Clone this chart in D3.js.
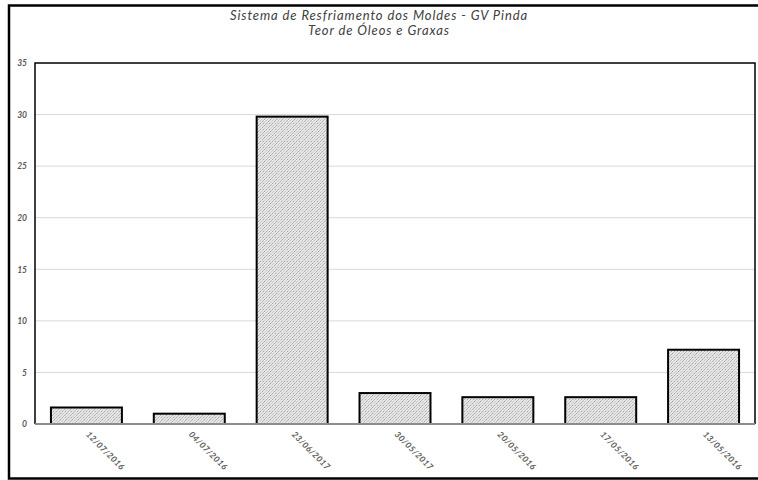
<!DOCTYPE html>
<html>
<head>
<meta charset="utf-8">
<script src="https://cdn.jsdelivr.net/npm/d3@7"></script>
<style>
  html, body { margin: 0; padding: 0; background: #fff; }
  svg { display: block; }
</style>
</head>
<body>
<svg id="chart" width="758" height="480"></svg>
<script>
// Sampling dates and measured oil & grease content
const categories = ["12/07/2016", "04/07/2016", "23/06/2017", "30/05/2017", "20/05/2016", "17/05/2016", "13/05/2016"];
const values = [1.6, 1.0, 29.8, 3.0, 2.6, 2.6, 7.2];
const yTicks = [0, 5, 10, 15, 20, 25, 30, 35];
const titleLines = ["Sistema de Resfriamento dos Moldes - GV Pinda", "Teor de Óleos e Graxas"];

const svg = d3.select("#chart");
const m = { left: 35, top: 63, right: 755, bottom: 424 };
const fontFamily = "Lato, 'Open Sans', sans-serif";

// Dotted texture used to fill the bars
const defs = svg.append("defs");
const pat = defs.append("pattern")
  .attr("id", "dots")
  .attr("patternUnits", "userSpaceOnUse")
  .attr("width", 6).attr("height", 6);
pat.append("rect").attr("width", 6).attr("height", 6).attr("fill", "#e6e6e6");
[[0,5,"#a4a4a4"],[1,4,"#bdbdbd"],[2,3,"#aaaaaa"],[3,2,"#c4c4c4"],[4,1,"#adadad"],[5,0,"#b8b8b8"],
 [3,5,"#cacaca"],[5,3,"#a8a8a8"],[0,2,"#cdcdcd"],[2,0,"#c2c2c2"],[4,4,"#d4d4d4"],[1,1,"#d2d2d2"]]
  .forEach(([x, y, c]) => pat.append("rect").attr("x", x).attr("y", y).attr("width", 1).attr("height", 1).attr("fill", c));

// Outer frame (runs past the right edge)
svg.append("rect")
  .attr("x", 9).attr("y", 5.5).attr("width", 760).attr("height", 473)
  .attr("fill", "#fff").attr("stroke", "#000").attr("stroke-width", 2.5);

const x = d3.scaleBand().domain(categories).range([m.left, m.right]).paddingInner(0.31).paddingOuter(0.155);
const y = d3.scaleLinear().domain([0, 35]).range([m.bottom, m.top]);

// Gridlines
svg.append("g")
  .selectAll("line").data(yTicks.filter(t => t > 0 && t < 35)).join("line")
  .attr("x1", m.left).attr("x2", m.right)
  .attr("y1", d => y(d)).attr("y2", d => y(d))
  .attr("stroke", "#d9d9d9").attr("stroke-width", 1);

// Y axis labels
const yAxis = d3.axisLeft(y).tickValues(yTicks).tickSize(0).tickPadding(8);
const gy = svg.append("g").attr("transform", `translate(${m.left},0)`).call(yAxis);
gy.select(".domain").remove();
gy.selectAll("text")
  .attr("fill", "#595959")
  .style("font-family", fontFamily)
  .style("font-style", "italic").style("font-weight", "bold").style("font-size", "8.5px");

// Bars
svg.append("g")
  .selectAll("rect").data(values).join("rect")
  .attr("x", (d, i) => x(categories[i]))
  .attr("y", d => y(d))
  .attr("width", x.bandwidth())
  .attr("height", d => y(0) - y(d))
  .attr("fill", "url(#dots)")
  .attr("stroke", "#000").attr("stroke-width", 2);

// Plot frame: left, top, right in black
svg.append("path")
  .attr("d", `M${m.left},${m.bottom}V${m.top}H${m.right}V${m.bottom}`)
  .attr("fill", "none").attr("stroke", "#000").attr("stroke-width", 1.5);

// X axis
const xAxis = d3.axisBottom(x).tickSize(0).tickPadding(0);
const gx = svg.append("g").attr("transform", `translate(0,${m.bottom})`).call(xAxis);
gx.select(".domain").attr("stroke", "#8c8c8c").attr("stroke-width", 2)
  .attr("d", `M${m.left},0H${m.right}`);
gx.selectAll("text")
  .attr("fill", "#595959")
  .attr("text-anchor", "start")
  .attr("dy", null).attr("y", 0)
  .attr("transform", "translate(-1,11) rotate(45)")
  .style("font-family", fontFamily)
  .style("letter-spacing", "0.4px")
  .style("font-style", "italic").style("font-weight", "bold").style("font-size", "8.5px");

// Title
const title = svg.append("text")
  .attr("x", 379).attr("y", 20)
  .attr("text-anchor", "middle")
  .attr("fill", "#404040")
  .style("font-family", fontFamily)
  .style("letter-spacing", "0.9px")
  .style("font-style", "italic").style("font-size", "13px");
title.selectAll("tspan").data(titleLines).join("tspan")
  .attr("x", 379).attr("dy", (d, i) => i === 0 ? 0 : 14.5)
  .text(d => d);
</script>
</body>
</html>
